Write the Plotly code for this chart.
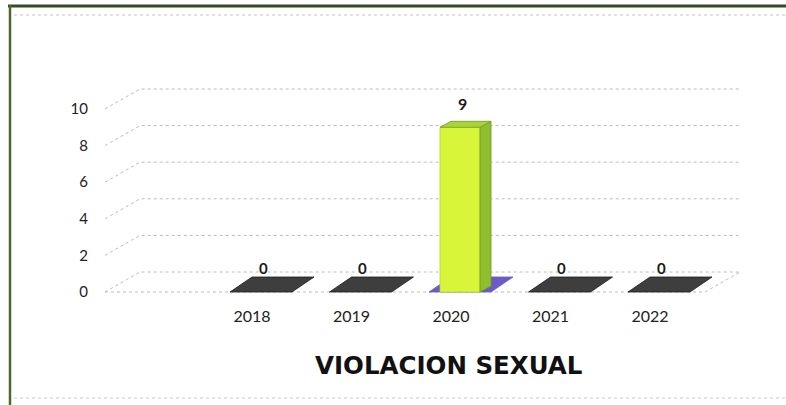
import plotly.graph_objects as go

# ---------------- data ----------------
years = ["2018", "2019", "2020", "2021", "2022"]
values = [0, 0, 9, 0, 0]
y_ticks = [0, 2, 4, 6, 8, 10]
chart_title = "VIOLACION SEXUAL"

# ---------------- layout geometry (pixels) ----------------
W, H = 786, 405
L_PX, R_PX = 105, 745      # plot area left/right
T_PX, B_PX = 80, 300       # plot area top/bottom
X0_PX = 261                # pixel of first category (front centre)
PX_PER_X = 99.5
Y0_PX = 292                # pixel of value 0
PX_PER_Y = 18.3

xr = [(L_PX - X0_PX) / PX_PER_X, (R_PX - X0_PX) / PX_PER_X]
yr = [(Y0_PX - B_PX) / PX_PER_Y, (Y0_PX - T_PX) / PX_PER_Y]


def ux(px):
    return px / PX_PER_X


def uy(px):
    return px / PX_PER_Y


def paper_x(px):
    return (px - L_PX) / (R_PX - L_PX)


def paper_y(py):
    return (B_PX - py) / (B_PX - T_PX)


# 3D look constants
BAR_W = ux(40)
SIDE_DX, SIDE_DY = ux(11), uy(6)
CAP_W = ux(62)
CAP_DX, CAP_DY = ux(22), uy(15)
WALL_DX, WALL_DY = ux(35), uy(20)
LABEL_SHIFT = ux(9)

FRONT_COL = "#d8f53a"
SIDE_COL = "#8fbf2e"
TOP_COL = "#a9d437"
ZERO_COL = "#3e3e3e"
BASE_COL = "#6a5cc4"

fig = go.Figure()


def poly(xs, ys, fill, line):
    fig.add_trace(go.Scatter(
        x=xs + [xs[0]], y=ys + [ys[0]], mode="lines", fill="toself",
        fillcolor=fill, line=dict(color=line, width=0.8),
        hoverinfo="skip", showlegend=False))


xs_cat = list(range(len(years)))

# floor caps (the bottom face of each bar)
for c, v in zip(xs_cat, values):
    col = ZERO_COL if v == 0 else BASE_COL
    poly([c - CAP_W / 2, c + CAP_W / 2, c + CAP_W / 2 + CAP_DX, c - CAP_W / 2 + CAP_DX],
         [0, 0, CAP_DY, CAP_DY], col, "#1c1c1c" if v == 0 else BASE_COL)

# bars with height
for c, v in zip(xs_cat, values):
    if v <= 0:
        continue
    xl, xrr = c - BAR_W / 2, c + BAR_W / 2
    poly([xl, xrr, xrr, xl], [0, 0, v, v], FRONT_COL, "#b5d62c")
    poly([xrr, xrr + SIDE_DX, xrr + SIDE_DX, xrr], [0, SIDE_DY, v + SIDE_DY, v], SIDE_COL, "#6f9a22")
    poly([xl, xrr, xrr + SIDE_DX, xl + SIDE_DX], [v, v, v + SIDE_DY, v + SIDE_DY], TOP_COL, "#6f9a22")

# gridlines / walls
shapes = []
x_left = xr[0]
x_right = ux(740 - X0_PX)
for t in y_ticks:
    path = (f"M {x_left},{t} L {x_left + WALL_DX},{t + WALL_DY} "
            f"L {x_right},{t + WALL_DY}")
    shapes.append(dict(type="path", path=path, xref="x", yref="y",
                       line=dict(color="#bcbcbc", width=1, dash="dot"), layer="below"))
# front edge of the floor
floor_end = ux(705 - X0_PX)
shapes.append(dict(type="path",
                   path=f"M {x_left},0 L {floor_end},0 L {floor_end + WALL_DX},{WALL_DY}",
                   xref="x", yref="y", line=dict(color="#bcbcbc", width=1, dash="dot"),
                   layer="below"))

# page frame of the scan
frame = "#34482a"
shapes += [
    dict(type="line", xref="paper", yref="paper", x0=paper_x(8), x1=paper_x(786),
         y0=paper_y(6), y1=paper_y(6), line=dict(color=frame, width=3)),
    dict(type="line", xref="paper", yref="paper", x0=paper_x(10), x1=paper_x(10),
         y0=paper_y(5), y1=paper_y(405), line=dict(color="#4a6a34", width=2.5)),
    dict(type="line", xref="paper", yref="paper", x0=paper_x(14), x1=paper_x(786),
         y0=paper_y(15), y1=paper_y(15), line=dict(color="#c4c4c4", width=1, dash="dot")),
    dict(type="line", xref="paper", yref="paper", x0=paper_x(14), x1=paper_x(786),
         y0=paper_y(398), y1=paper_y(398), line=dict(color="#c8c8c8", width=1, dash="dot")),
]

# value labels
annotations = []
for c, v in zip(xs_cat, values):
    annotations.append(dict(x=c + ux(2), y=v, xref="x", yref="y", text=f"<b>{v}</b>",
                            showarrow=False, yshift=24, yanchor="middle",
                            font=dict(family="Lato", size=16 if v > 0 else 15, color="#1a1a1a")))

annotations.append(dict(x=paper_x(448), y=paper_y(365), xref="paper", yref="paper",
                        text=f"<b>{chart_title}</b>", showarrow=False,
                        xanchor="center", yanchor="middle",
                        font=dict(family="DejaVu Sans", size=24.5, color="#111111")))

fig.update_layout(
    width=W, height=H,
    margin=dict(l=L_PX, r=W - R_PX, t=T_PX, b=H - B_PX, pad=0),
    paper_bgcolor="white", plot_bgcolor="white",
    showlegend=False,
    shapes=shapes, annotations=annotations,
    xaxis=dict(range=xr, tickvals=[c - LABEL_SHIFT for c in xs_cat], ticktext=years,
               showgrid=False, zeroline=False, showline=False, ticks="",
               ticklabelstandoff=5,
               tickfont=dict(family="Lato", size=16, color="#222222"), fixedrange=True),
    yaxis=dict(range=yr, tickvals=y_ticks, showgrid=False, zeroline=False, showline=False,
               ticks="", ticklabelstandoff=16,
               tickfont=dict(family="Lato", size=15, color="#222222"), fixedrange=True),
)

fig.write_html("out.html", config={"displayModeBar": False},
               post_script="document.body.style.margin='0';document.body.style.overflow='hidden';")
